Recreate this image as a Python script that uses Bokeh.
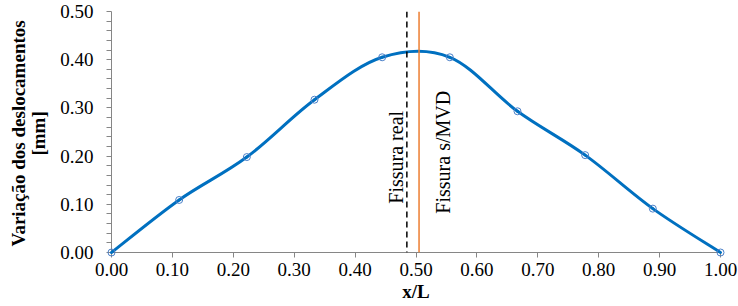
import numpy as np
from bokeh.plotting import figure
from bokeh.models import Range1d, FixedTicker, Span, Label, ColumnDataSource
from bokeh.embed import file_html
from bokeh.resources import INLINE
from bokeh.core.properties import value

# ---- data ----
x_over_L = [0.0, 1/9, 2/9, 3/9, 4/9, 5/9, 6/9, 7/9, 8/9, 1.0]
variacao = [0.000, 0.109, 0.198, 0.317, 0.405, 0.405, 0.293, 0.202, 0.091, 0.000]
x_ticks = [0.0, 0.1, 0.2, 0.3, 0.4, 0.5, 0.6, 0.7, 0.8, 0.9, 1.0]
x_tick_labels = ["0.00", "0.10", "0.20", "0.30", "0.40", "0.50", "0.60", "0.70", "0.80", "0.90", "1.00"]
y_ticks = [0.0, 0.1, 0.2, 0.3, 0.4, 0.5]
y_tick_labels = ["0.00", "0.10", "0.20", "0.30", "0.40", "0.50"]
y_minor_ticks = [0.02, 0.04, 0.06, 0.08, 0.12, 0.14, 0.16, 0.18, 0.22, 0.24, 0.26, 0.28,
                 0.32, 0.34, 0.36, 0.38, 0.42, 0.44, 0.46, 0.48]
fissura_real_x = 0.485
fissura_mvd_x = 0.505
fissura_real_label = "Fissura real"
fissura_mvd_label = "Fissura s/MVD"
x_label = "x/L"
y_label_lines = ["Variação dos deslocamentos", "[mm]"]

FONT = "Liberation Serif"
BLUE = "#0070C0"
ORANGE = "#ED7D31"
GREY = "#868686"

p = figure(width=738, height=306, output_backend="svg", toolbar_location=None,
           x_range=Range1d(0, 1), y_range=Range1d(0, 0.5),
           min_border_left=111, min_border_right=18, min_border_top=11, min_border_bottom=54)
p.outline_line_color = None
p.xgrid.visible = False
p.ygrid.visible = False
p.background_fill_color = "white"
p.border_fill_color = "white"

# ---- smoothed curve (Catmull-Rom style Bezier through the data points) ----
xs = np.array(x_over_L)
ys = np.array(variacao)
xe = np.concatenate([[xs[0]], xs, [xs[-1]]])
ye = np.concatenate([[ys[0]], ys, [ys[-1]]])
t = 1.0 / 6.0
seg = dict(x0=[], y0=[], x1=[], y1=[], cx0=[], cy0=[], cx1=[], cy1=[])
for i in range(len(xs) - 1):
    j = i + 1
    seg["x0"].append(xe[j]); seg["y0"].append(ye[j])
    seg["x1"].append(xe[j + 1]); seg["y1"].append(ye[j + 1])
    seg["cx0"].append(xe[j] + (xe[j + 1] - xe[j - 1]) * t)
    seg["cy0"].append(ye[j] + (ye[j + 1] - ye[j - 1]) * t)
    seg["cx1"].append(xe[j + 1] - (xe[j + 2] - xe[j]) * t)
    seg["cy1"].append(ye[j + 1] - (ye[j + 2] - ye[j]) * t)
p.bezier(x0="x0", y0="y0", x1="x1", y1="y1", cx0="cx0", cy0="cy0", cx1="cx1", cy1="cy1",
         source=ColumnDataSource(seg), line_color=BLUE, line_width=3, line_cap="round",
         level="annotation")

# ---- vertical reference lines ----
p.add_layout(Span(location=fissura_real_x, dimension="height", line_color="black",
                  line_width=1.5, line_dash="6 4", level="overlay"))
p.add_layout(Span(location=fissura_mvd_x, dimension="height", line_color=ORANGE,
                  line_width=1.5, level="overlay"))

# ---- markers ----
p.scatter(xs, ys, marker="circle", size=7, fill_alpha=0, line_color="#4A7FC8", line_width=1,
          level="overlay")

# ---- rotated texts ----
p.add_layout(Label(x=fissura_real_x, y=0.1975, x_offset=-11, text=fissura_real_label, angle=np.pi / 2,
                   text_font=FONT, text_font_size="20px", text_color="black",
                   text_align="center", text_baseline="alphabetic"))
p.add_layout(Label(x=fissura_mvd_x, y=0.208, x_offset=24, text=fissura_mvd_label, angle=np.pi / 2,
                   text_font=FONT, text_font_size="20px", text_color="black",
                   text_align="center", text_baseline="alphabetic"))

# ---- axis titles (text glyphs at overlay level so they are not clipped) ----
p.text(x=[0, 0], y=[0.247, 0.247], text=y_label_lines, x_offset=[-93, -73], angle=np.pi / 2,
       text_font=value(FONT), text_font_size="19px", text_font_style="bold",
       text_color="black", text_align="center", text_baseline="alphabetic", level="overlay")
p.text(x=[0.5], y=[0], text=[x_label], y_offset=39,
       text_font=value(FONT), text_font_size="19px", text_font_style="bold",
       text_color="black", text_align="center", text_baseline="alphabetic", level="overlay")

# ---- axes ----
for ax in (p.xaxis[0], p.yaxis[0]):
    ax.axis_line_color = GREY
    ax.axis_line_width = 1
    ax.major_tick_line_color = GREY
    ax.minor_tick_line_color = GREY
    ax.major_tick_in = 0
    ax.major_tick_out = 5
    ax.minor_tick_in = 0
    ax.minor_tick_out = 5
    ax.major_label_text_font = FONT
    ax.major_label_text_font_size = "19px"
    ax.major_label_text_color = "black"

p.xaxis.ticker = FixedTicker(ticks=x_ticks)
p.xaxis.major_label_overrides = {tk: lb for tk, lb in zip(x_ticks, x_tick_labels)}
p.xaxis.minor_tick_out = 0
p.xaxis.major_label_standoff = 5

p.yaxis.ticker = FixedTicker(ticks=y_ticks, minor_ticks=y_minor_ticks)
p.yaxis.major_label_overrides = {tk: lb for tk, lb in zip(y_ticks, y_tick_labels)}
p.yaxis.major_label_standoff = 13

open("out.html", "w").write(file_html(p, INLINE))
